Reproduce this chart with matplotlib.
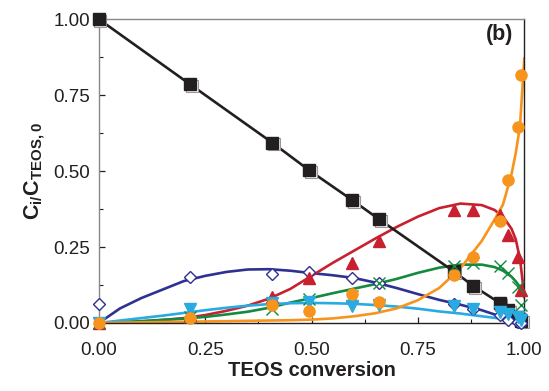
import numpy as np
import matplotlib
matplotlib.use('Agg')
import matplotlib.pyplot as plt
from matplotlib.ticker import MultipleLocator
import matplotlib.transforms as mtransforms

plt.rcParams['font.family'] = ['Liberation Sans', 'DejaVu Sans']
plt.rcParams['mathtext.fontset'] = 'custom'
plt.rcParams['mathtext.rm'] = 'Liberation Sans'
plt.rcParams['mathtext.bf'] = 'Liberation Sans:bold'

# measured points
x_pts = [0.0, 0.214, 0.407, 0.494, 0.595, 0.659, 0.834, 0.88, 0.942, 0.962, 0.985, 0.992]
teos = [1.0, 0.786, 0.594, 0.503, 0.405, 0.341, 0.17, 0.122, 0.066, 0.043, 0.02, 0.008]
diamond = [0.0625, 0.151, 0.162, 0.168, 0.148, 0.13, 0.062, 0.046, 0.026, 0.01, 0.003, 0.0]
red_pts = [0.0, 0.026, 0.084, 0.148, 0.197, 0.27, 0.372, 0.372, 0.355, 0.29, 0.217, 0.108]
green_pts = [0.0, 0.02, 0.046, 0.078, 0.09, 0.13, 0.186, 0.196, 0.188, 0.164, 0.12, 0.06]
cyan_pts = [0.0, 0.045, 0.066, 0.068, 0.056, 0.06, 0.055, 0.047, 0.036, 0.03, 0.02, 0.01]
orange_pts = [0.0, 0.015, 0.059, 0.04, 0.095, 0.068, 0.158, 0.217, 0.337, 0.472, 0.645, 0.816]

# model curves
x_fit = [0, 0.05, 0.1, 0.15, 0.2, 0.25, 0.3, 0.35, 0.4, 0.45, 0.5, 0.55, 0.6, 0.65,
         0.7, 0.75, 0.8, 0.85, 0.9, 0.93, 0.95, 0.97, 0.98, 0.99, 1.0]
blue_fit = [0, 0.048, 0.082, 0.11, 0.138, 0.155, 0.168, 0.176, 0.177, 0.172, 0.164, 0.157,
            0.148, 0.133, 0.115, 0.095, 0.076, 0.06, 0.042, 0.028, 0.018, 0.008, 0.004, 0.001, 0.0]
red_fit = [0, 0.002, 0.005, 0.01, 0.016, 0.026, 0.04, 0.057, 0.08, 0.112, 0.155, 0.198,
           0.238, 0.278, 0.316, 0.35, 0.378, 0.393, 0.388, 0.372, 0.35, 0.31, 0.275, 0.21, 0.09]
green_fit = [0, 0.003, 0.006, 0.01, 0.014, 0.02, 0.028, 0.037, 0.05, 0.067, 0.082, 0.098,
             0.113, 0.128, 0.145, 0.165, 0.182, 0.192, 0.192, 0.184, 0.172, 0.152, 0.137, 0.118, 0.085]
cyan_fit = [0, 0.008, 0.016, 0.024, 0.033, 0.042, 0.05, 0.057, 0.062, 0.065, 0.066, 0.065,
            0.063, 0.059, 0.054, 0.047, 0.038, 0.031, 0.022, 0.017, 0.013, 0.008, 0.006, 0.003, 0.0]
orange_fit = [0, 0.001, 0.002, 0.003, 0.004, 0.005, 0.006, 0.007, 0.008, 0.009, 0.011, 0.015,
              0.022, 0.032, 0.048, 0.075, 0.115, 0.18, 0.27, 0.34, 0.39, 0.49, 0.56, 0.65, 0.87]

c_black = '#231F20'
c_blue = '#2E3192'
c_red = '#C8202F'
c_green = '#138A3E'
c_cyan = '#29ABE2'
c_orange = '#F7941D'

fig = plt.figure(figsize=(5.49, 3.91), dpi=100)
ax = fig.add_axes([0.180, 0.174, 0.775, 0.777])

lw = 1.9
ax.plot(x_fit, blue_fit, color=c_blue, lw=lw, zorder=2)
ax.plot(x_fit, red_fit, color=c_red, lw=lw, zorder=2)
ax.plot(x_fit, green_fit, color=c_green, lw=lw, zorder=2)
ax.plot(x_fit, cyan_fit, color=c_cyan, lw=lw, zorder=2)
ax.plot(x_fit, orange_fit, color=c_orange, lw=lw, zorder=2)
ax.plot(x_pts, teos, color=c_black, lw=lw, zorder=3)

# shadow outline under the squares
shadow = mtransforms.offset_copy(ax.transData, fig=fig, x=1.2, y=-1.2, units='points')
ax.plot(x_pts, teos, 's', ms=8, mfc='white', mec='#999999', mew=0.8,
        transform=shadow, clip_on=False, zorder=4)
ax.plot(x_pts, teos, 's', ms=8, color=c_black, clip_on=False, zorder=5)

ax.plot(x_pts, diamond, 'D', ms=6.5, mfc='white', mec=c_blue, mew=1.0, clip_on=False, zorder=5)
ax.plot(x_pts, red_pts, '^', ms=8.5, color=c_red, clip_on=False, zorder=5)
ax.plot(x_pts, green_pts, 'x', ms=8, mew=1.0, color=c_green, clip_on=False, zorder=5)
ax.plot(x_pts, cyan_pts, 'v', ms=8, color=c_cyan, clip_on=False, zorder=5)
ax.plot(x_pts, orange_pts, 'o', ms=8, color=c_orange, clip_on=False, zorder=5)

ax.set_xlim(0, 1)
ax.set_ylim(0, 1)
ax.xaxis.set_major_locator(MultipleLocator(0.25))
ax.xaxis.set_minor_locator(MultipleLocator(0.125))
ax.yaxis.set_major_locator(MultipleLocator(0.25))
ax.yaxis.set_minor_locator(MultipleLocator(0.125))
ax.xaxis.set_major_formatter(plt.FormatStrFormatter('%.2f'))
ax.yaxis.set_major_formatter(plt.FormatStrFormatter('%.2f'))
ax.tick_params(which='both', direction='in', top=False, right=False, labelsize=13.5,
               colors='#231F20')
ax.tick_params(which='major', length=4, width=0.9)
ax.tick_params(which='minor', length=3, width=0.8)
ax.tick_params(axis='x', pad=14)
ax.tick_params(axis='y', pad=6)

ax.spines['left'].set_color('#888888')
ax.spines['top'].set_color('#888888')
ax.spines['bottom'].set_color('#231F20')
ax.spines['right'].set_color('#231F20')
for s in ax.spines.values():
    s.set_linewidth(1.0)

ax.set_xlabel('TEOS conversion', fontsize=14.5, fontweight='bold', color='#231F20', labelpad=1)
ax.set_ylabel(r'$\mathbf{C_{i/}C_{TEOS,0}}$', fontsize=15.5, color='#231F20', labelpad=5)

ax.text(0.975, 0.985, '(b)', transform=ax.transAxes, ha='right', va='top',
        fontsize=15.5, fontweight='bold', color='#231F20')

plt.savefig('out.png', dpi=100)
